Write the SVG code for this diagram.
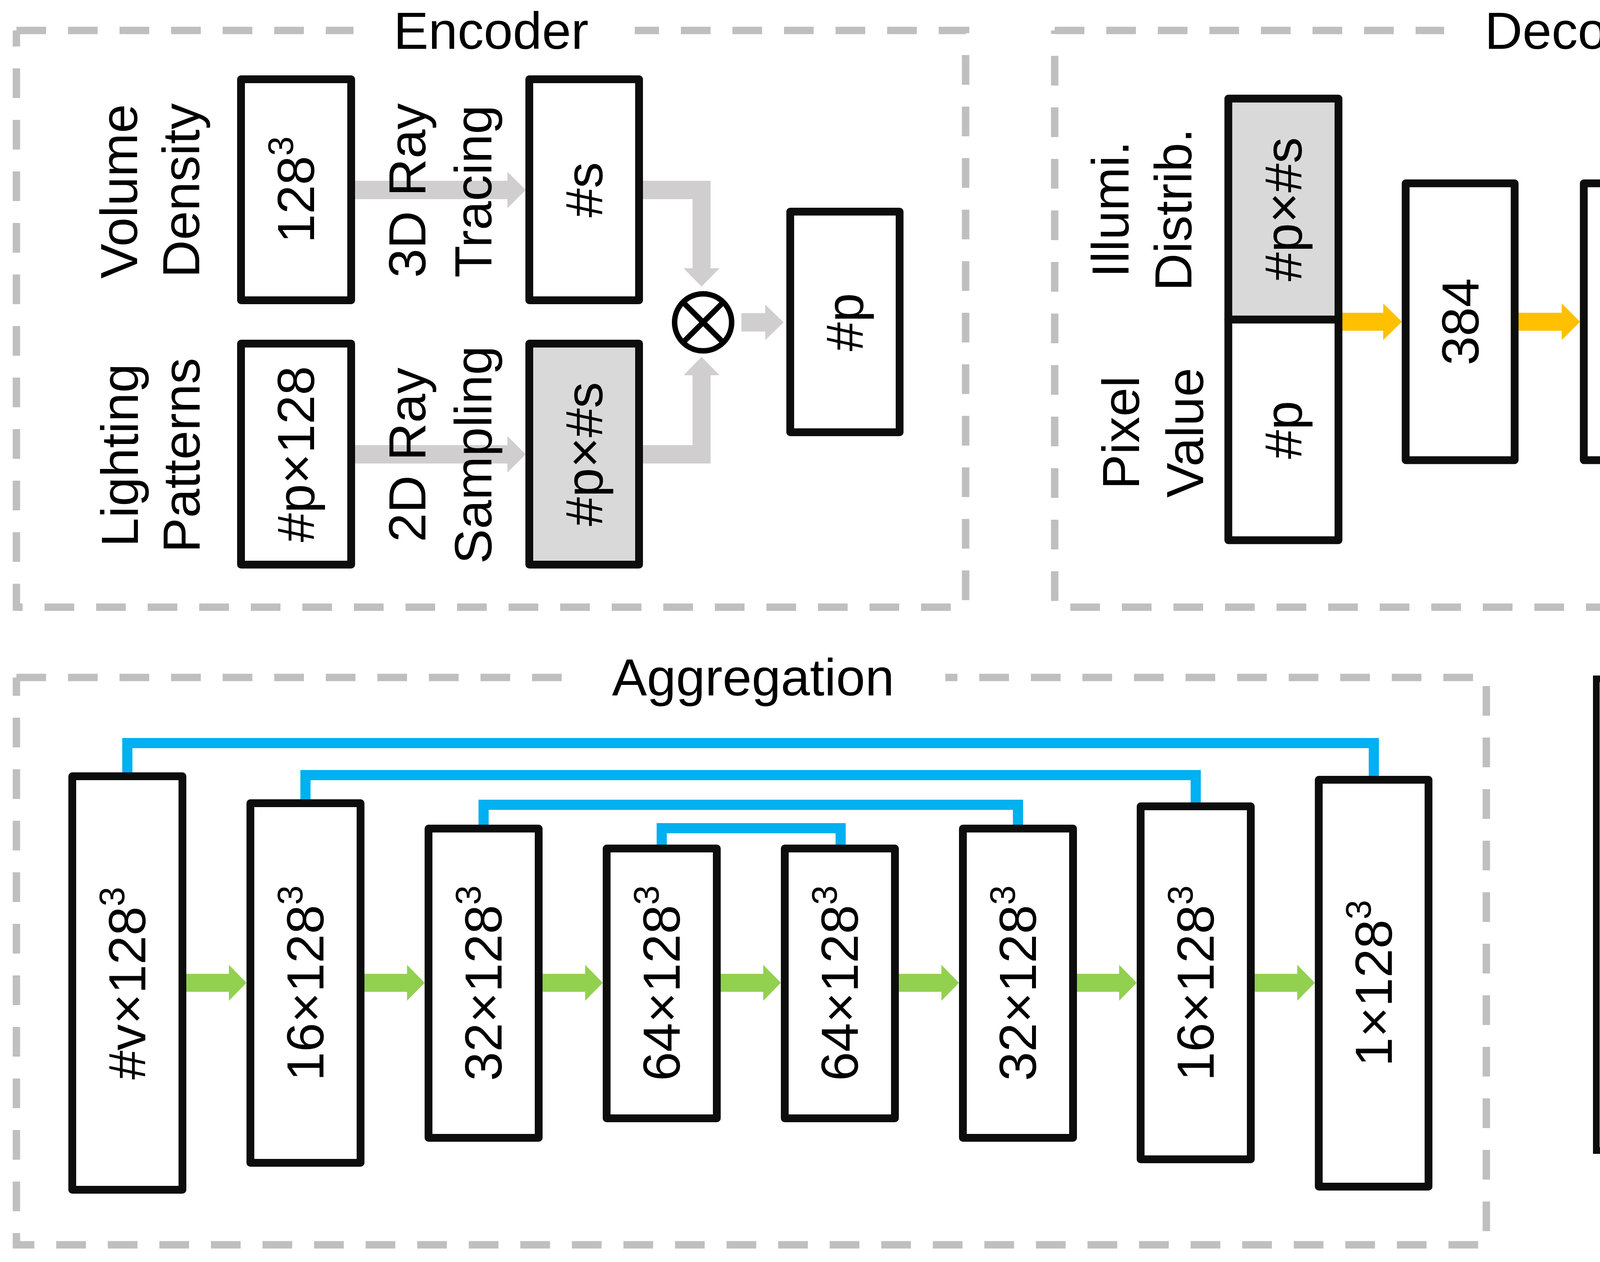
<svg xmlns="http://www.w3.org/2000/svg" width="5477" height="3232" viewBox="0 0 5477 3232">
<style>
.frame{fill:none;stroke:#BFBFBF;stroke-width:19;stroke-dasharray:76 56}
.box{fill:#FFFFFF;stroke:#0D0D0D;stroke-width:20;stroke-linejoin:round}
.gbox{fill:#D9D9D9;stroke:#0D0D0D;stroke-width:20;stroke-linejoin:round}
.t{font-family:"Liberation Sans",Arial,sans-serif;font-size:134px;fill:#000000;text-anchor:middle}
.tl{font-family:"Liberation Sans",Arial,sans-serif;font-size:134px;fill:#000000;text-anchor:start;white-space:pre}
.sup{font-size:90px}
.gray{fill:#D0CECE}
.yel{fill:#FFC000}
.grn{fill:#92D050}
.skip{fill:none;stroke:#00B0F0;stroke-width:26;stroke-linejoin:miter;stroke-linecap:butt}
.otimes{fill:#FFFFFF;stroke:#000000;stroke-width:14}
.xline{fill:none;stroke:#000000;stroke-width:14}
.legend{fill:none;stroke:#0D0D0D;stroke-width:17}
</style>

<g id="frames">
  <g id="encoder-frame">
    <path class="frame" d="M42,78 H905"/>
    <path class="frame" style="stroke-dashoffset:35" d="M42,78 V1555 H2472 V78 H1625"/>
    <text class="t" x="1257" y="125">Encoder</text>
  </g>
  <g id="decoder-frame">
    <path class="frame" d="M2700,78 H3697"/>
    <path class="frame" style="stroke-dashoffset:67" d="M2700,78 V1555 H5440 V78 H4411"/>
    <text class="t" x="4054" y="125">Decoder</text>
  </g>
  <g id="aggregation-frame">
    <path class="frame" d="M42,1735 H1445"/>
    <path class="frame" style="stroke-dashoffset:29" d="M42,1735 V3188 H3805 V1735 H2420"/>
    <text class="t" x="1928" y="1781">Aggregation</text>
  </g>
</g>

<g id="connectors">
  <polygon class="gray" points="909,463 1299,463 1299,440 1346,486.5 1299,533 1299,510 909,510"/>
  <polygon class="gray" points="909,1140 1299,1140 1299,1117 1346,1163.5 1299,1210 1299,1187 909,1187"/>
  <polygon class="gray" points="1646,463 1819,463 1819,687 1842,687 1796,734 1750,687 1773,687 1773,510 1646,510"/>
  <polygon class="gray" points="1646,1187 1819,1187 1819,961 1842,961 1796,914 1750,961 1773,961 1773,1140 1646,1140"/>
  <polygon class="gray" points="1898,802 1959,802 1959,780 2006,825.5 1959,871 1959,849 1898,849"/>
  <polygon class="yel" points="3436,801 3541,801 3541,777 3589,824 3541,871 3541,847 3436,847"/>
  <polygon class="yel" points="3887,801 3998,801 3998,777 4045,824 3998,871 3998,847 3887,847"/>
  <polygon class="yel" points="4343,801 4454,801 4454,777 4501,824 4454,871 4454,847 4343,847"/>
  <polygon class="yel" points="4799,801 4910,801 4910,777 4957,824 4910,871 4910,847 4799,847"/>
  <polygon class="grn" points="477,2494 586,2494 586,2471 631,2517 586,2563 586,2540 477,2540"/>
  <polygon class="grn" points="933,2494 1042,2494 1042,2471 1087,2517 1042,2563 1042,2540 933,2540"/>
  <polygon class="grn" points="1389,2494 1498,2494 1498,2471 1543,2517 1498,2563 1498,2540 1389,2540"/>
  <polygon class="grn" points="1845,2494 1954,2494 1954,2471 1999,2517 1954,2563 1954,2540 1845,2540"/>
  <polygon class="grn" points="2301,2494 2410,2494 2410,2471 2455,2517 2410,2563 2410,2540 2301,2540"/>
  <polygon class="grn" points="2757,2494 2865,2494 2865,2471 2910,2517 2865,2563 2865,2540 2757,2540"/>
  <polygon class="grn" points="3212,2494 3321,2494 3321,2471 3366,2517 3321,2563 3321,2540 3212,2540"/>
  <path class="skip" d="M326,1980 V1903 H3517 V1989"/>
  <path class="skip" d="M782,2049 V1985 H3061 V2057"/>
  <path class="skip" d="M1238,2114 V2061 H2606 V2114"/>
  <path class="skip" d="M1694,2165 V2121 H2152 V2165"/>
</g>

<g id="encoder-nodes">
  <g id="volume-density">
    <rect class="box" x="617" y="203" width="282" height="566"/>
    <text class="t" transform="translate(804,486) rotate(-90)">128<tspan class="sup" dy="-54">3</tspan></text>
    <text class="t" transform="translate(351,490) rotate(-90)">Volume</text>
    <text class="t" transform="translate(510,488) rotate(-90)">Density</text>
  </g>
  <g id="lighting-patterns">
    <rect class="box" x="617" y="880" width="282" height="566"/>
    <text class="t" transform="translate(804,1163) rotate(-90)">#p×128</text>
    <text class="t" transform="translate(353,1166) rotate(-90)">Lighting</text>
    <text class="t" transform="translate(511,1166) rotate(-90)">Patterns</text>
  </g>
  <g id="ray-tracing">
    <rect class="box" x="1355" y="203" width="281" height="566"/>
    <text class="t" transform="translate(1542,486) rotate(-90)">#s</text>
    <text class="t" transform="translate(1089,488) rotate(-90)">3D Ray</text>
    <text class="t" transform="translate(1258,490) rotate(-90)">Tracing</text>
  </g>
  <g id="ray-sampling">
    <rect class="gbox" x="1355" y="880" width="281" height="566"/>
    <text class="t" transform="translate(1542,1163) rotate(-90)">#p×#s</text>
    <text class="t" transform="translate(1089,1165) rotate(-90)">2D Ray</text>
    <text class="t" transform="translate(1258,1165) rotate(-90)">Sampling</text>
  </g>
  <g id="matmul">
    <circle class="otimes" cx="1800" cy="825.5" r="73"/>
    <path class="xline" d="M1748.4,773.9 L1851.6,877.1 M1851.6,773.9 L1748.4,877.1"/>
  </g>
  <g id="pixel-out">
    <rect class="box" x="2023" y="542" width="280" height="565"/>
    <text class="t" transform="translate(2209,825) rotate(-90)">#p</text>
  </g>
</g>

<g id="decoder-nodes">
  <g id="decoder-input">
    <rect class="gbox" x="3144.5" y="252.5" width="282" height="566"/>
    <rect class="box" x="3144.5" y="818.5" width="282" height="565"/>
    <text class="t" transform="translate(3332,536) rotate(-90)">#p×#s</text>
    <text class="t" transform="translate(3332,1101) rotate(-90)">#p</text>
    <text class="t" transform="translate(2889,536) rotate(-90)">Illumi.</text>
    <text class="t" transform="translate(3050,537) rotate(-90)">Distrib.</text>
    <text class="t" transform="translate(2916,1108) rotate(-90)">Pixel</text>
    <text class="t" transform="translate(3080,1108) rotate(-90)">Value</text>
  </g>
  <g id="fc-384">
    <rect class="box" x="3598.5" y="469.5" width="279" height="709"/>
    <text class="t" transform="translate(3785,824) rotate(-90)">384</text>
  </g>
  <g id="fc-192a">
    <rect class="box" x="4054.5" y="469.5" width="279" height="709"/>
    <text class="t" transform="translate(4241,824) rotate(-90)">192</text>
  </g>
  <g id="fc-192b">
    <rect class="box" x="4510.5" y="469.5" width="279" height="709"/>
    <text class="t" transform="translate(4697,824) rotate(-90)">192</text>
  </g>
  <g id="fc-s">
    <rect class="box" x="4966.5" y="469.5" width="279" height="709"/>
    <text class="t" transform="translate(5153,824) rotate(-90)">#s</text>
  </g>
</g>

<g id="aggregation-nodes">
  <g id="agg-1">
    <rect class="box" x="185" y="1988" width="282" height="1059"/>
    <text class="t" transform="translate(372,2518) rotate(-90)">#v×128<tspan class="sup" dy="-54">3</tspan></text>
  </g>
  <g id="agg-2">
    <rect class="box" x="641" y="2057" width="282" height="921"/>
    <text class="t" transform="translate(828,2518) rotate(-90)">16×128<tspan class="sup" dy="-54">3</tspan></text>
  </g>
  <g id="agg-3">
    <rect class="box" x="1097" y="2122" width="282" height="792"/>
    <text class="t" transform="translate(1284,2518) rotate(-90)">32×128<tspan class="sup" dy="-54">3</tspan></text>
  </g>
  <g id="agg-4">
    <rect class="box" x="1553" y="2173" width="282" height="691"/>
    <text class="t" transform="translate(1740,2518) rotate(-90)">64×128<tspan class="sup" dy="-54">3</tspan></text>
  </g>
  <g id="agg-5">
    <rect class="box" x="2009" y="2173" width="282" height="691"/>
    <text class="t" transform="translate(2196,2518) rotate(-90)">64×128<tspan class="sup" dy="-54">3</tspan></text>
  </g>
  <g id="agg-6">
    <rect class="box" x="2465" y="2122" width="282" height="792"/>
    <text class="t" transform="translate(2652,2518) rotate(-90)">32×128<tspan class="sup" dy="-54">3</tspan></text>
  </g>
  <g id="agg-7">
    <rect class="box" x="2920" y="2065" width="282" height="904"/>
    <text class="t" transform="translate(3107,2518) rotate(-90)">16×128<tspan class="sup" dy="-54">3</tspan></text>
  </g>
  <g id="agg-8">
    <rect class="box" x="3376" y="1997" width="281" height="1042"/>
    <text class="t" transform="translate(3563,2518) rotate(-90)">1×128<tspan class="sup" dy="-54">3</tspan></text>
  </g>
</g>

<g id="legend">
  <rect class="legend" x="4086.5" y="1738.5" width="1343" height="1208"/>
  <circle cx="4254" cy="1937.5" r="64.5" fill="none" stroke="#000000" stroke-width="13"/>
  <path d="M4208.4,1891.9 L4299.6,1983.1 M4299.6,1891.9 L4208.4,1983.1" fill="none" stroke="#000000" stroke-width="13"/>
  <text class="tl" x="4417" y="1988">Matmul  Prod.</text>
  <polygon class="yel" points="4187,2184 4292,2184 4292,2161 4339,2207 4292,2253 4292,2230 4187,2230"/>
  <text class="tl" x="4417" y="2255">Fc Layer</text>
  <polygon class="grn" points="4187,2445 4292,2445 4292,2422 4339,2467.5 4292,2513 4292,2490 4187,2490"/>
  <text class="tl" x="4417" y="2516">Double Conv.</text>
  <path d="M4187,2762.5 H4338" fill="none" stroke="#00B0F0" stroke-width="26"/>
  <text class="tl" x="4417" y="2797">Skip-connection</text>
</g>
</svg>
